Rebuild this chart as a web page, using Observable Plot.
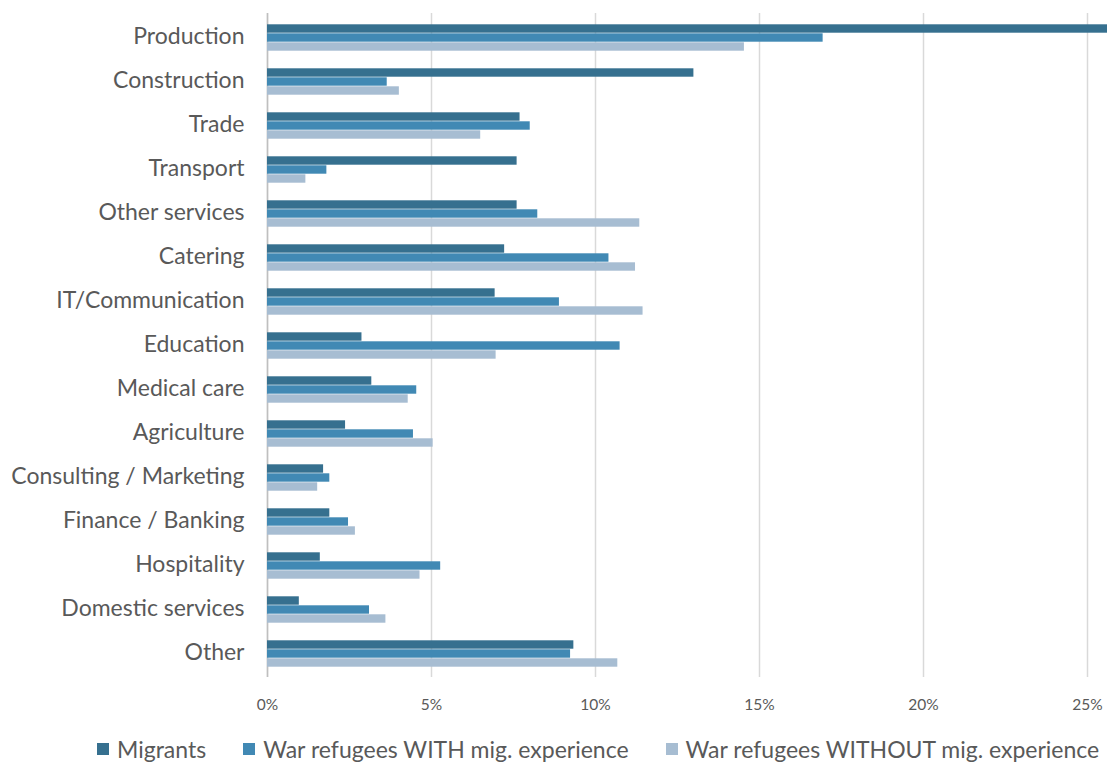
<!DOCTYPE html>
<html>
<head>
<meta charset="utf-8">
<script src="https://cdn.jsdelivr.net/npm/d3@7"></script>
<script src="https://cdn.jsdelivr.net/npm/@observablehq/plot@0.6"></script>
<style>
  body { margin: 0; background: #fff; font-family: Lato, "Open Sans", sans-serif; }
  #legend { display: flex; align-items: center; padding-left: 97px; margin-top: 5px; height: 28px; font-size: 23px; color: #595959; white-space: nowrap; }
  #legend .item { display: flex; align-items: center; margin-right: 37px; }
  #legend .sw { width: 12px; height: 12px; margin-right: 8px; }
</style>
</head>
<body>
<div id="chart"></div>
<div id="legend"></div>
<script>
const categories = ["Production", "Construction", "Trade", "Transport", "Other services", "Catering", "IT/Communication", "Education", "Medical care", "Agriculture", "Consulting / Marketing", "Finance / Banking", "Hospitality", "Domestic services", "Other"];
const series = ["Migrants", "War refugees WITH mig. experience", "War refugees WITHOUT mig. experience"];
const migrants   = [26.0, 13.0, 7.70, 7.61, 7.61, 7.23, 6.94, 2.88, 3.18, 2.38, 1.71, 1.90, 1.61, 0.97, 9.34];
const withExp    = [16.94, 3.65, 8.01, 1.81, 8.24, 10.41, 8.90, 10.75, 4.55, 4.45, 1.90, 2.47, 5.28, 3.11, 9.24];
const withoutExp = [14.54, 4.02, 6.50, 1.17, 11.35, 11.22, 11.45, 6.97, 4.29, 5.05, 1.53, 2.68, 4.65, 3.61, 10.68];
const colors = ["#36708f", "#4189b4", "#a7bdd2"];
const xTicks = [0, 5, 10, 15, 20, 25];

const valuesBySeries = [migrants, withExp, withoutExp];
const rows = [];
series.forEach((s, si) => categories.forEach((c, ci) => rows.push({category: c, series: s, value: valuesBySeries[si][ci]})));

const W = 1107, H = 730, mTop = 13, mBottom = 53, mLeft = 267, mRight = 0;
const pInner = 0.39, pOuter = 0.195;
const step = (H - mTop - mBottom) / (categories.length - pInner + 2 * pOuter);
const bw = step * (1 - pInner);
const third = bw / 3;

const barMarks = series.map((s, si) => Plot.barX(rows.filter(d => d.series === s), {
  x: "value",
  y: "category",
  fill: colors[si],
  insetTop: third * si + 0.3,
  insetBottom: third * (2 - si) + 0.3,
  clip: true
}));

const chart = Plot.plot({
  width: W,
  height: H,
  marginTop: mTop,
  marginBottom: mBottom,
  marginLeft: mLeft,
  marginRight: mRight,
  style: {fontFamily: "Lato, 'Open Sans', sans-serif", color: "#595959", background: "#fff"},
  x: {domain: [0, (W - mLeft - mRight) / 32.8], label: null},
  y: {domain: categories, paddingInner: pInner, paddingOuter: pOuter, label: null},
  marks: [
    Plot.gridX(xTicks, {stroke: "#d9d9d9", strokeOpacity: 1, strokeWidth: 1.5}),
    Plot.ruleX([0], {stroke: "#bfbfbf", strokeWidth: 1.5}),
    ...barMarks,
    Plot.axisX(xTicks, {tickSize: 0, tickPadding: 21, tickFormat: d => d + "%", fontSize: 15.5, fill: "#595959"}),
    Plot.axisY({tickSize: 0, tickPadding: 23, fontSize: 23, fill: "#595959", dy: -1})
  ]
});
document.getElementById("chart").appendChild(chart);

const legend = document.getElementById("legend");
series.forEach((s, i) => {
  const item = document.createElement("div");
  item.className = "item";
  const sw = document.createElement("span");
  sw.className = "sw";
  sw.style.background = colors[i];
  const t = document.createElement("span");
  t.textContent = s;
  item.appendChild(sw);
  item.appendChild(t);
  legend.appendChild(item);
});
</script>
</body>
</html>
